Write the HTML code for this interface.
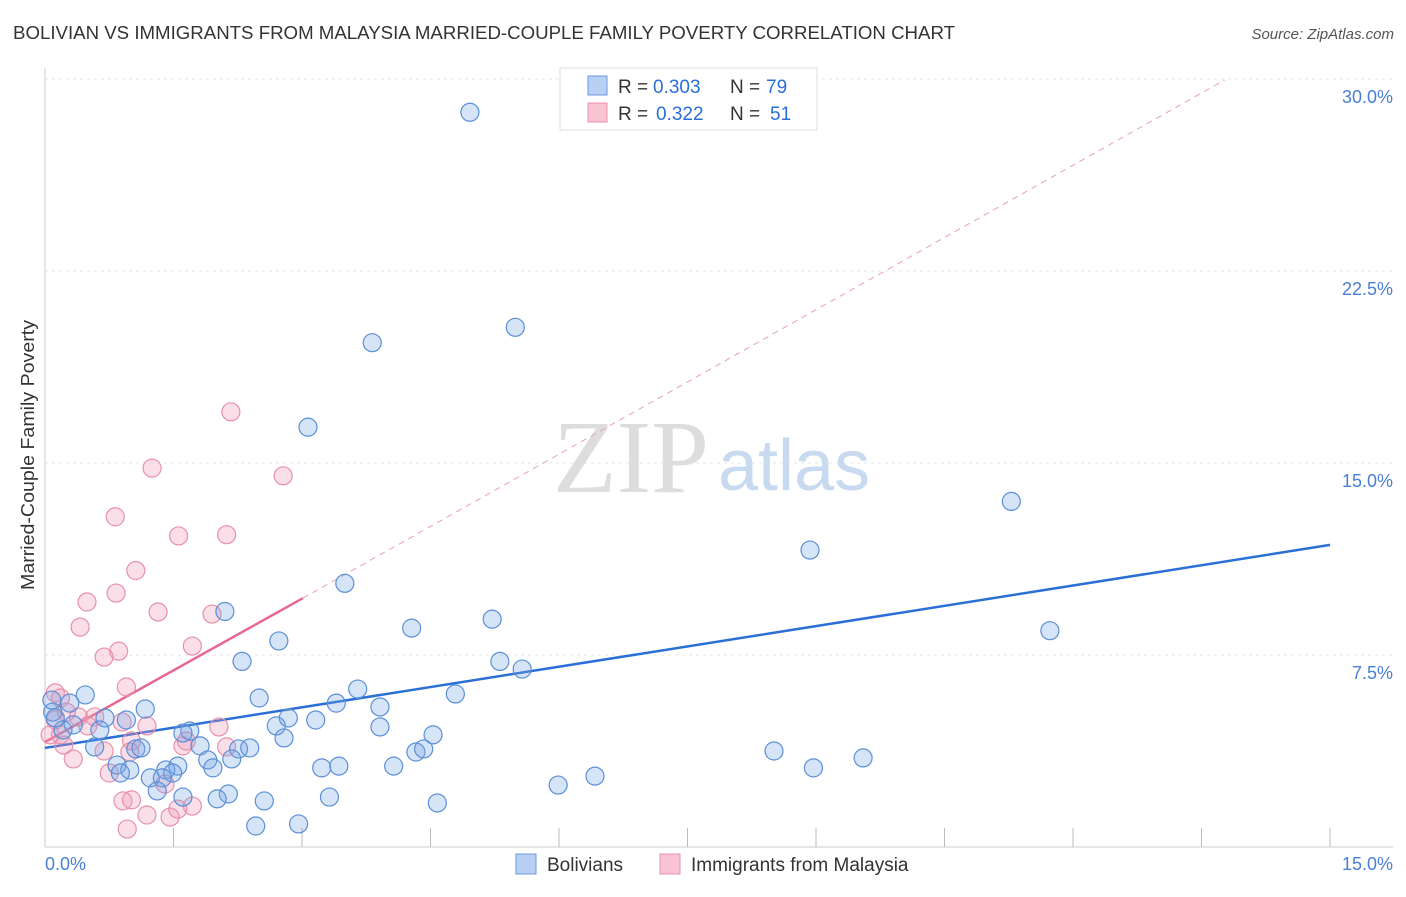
<!DOCTYPE html>
<html><head><meta charset="utf-8"><style>
body{margin:0;background:#fff;font-family:"Liberation Sans",sans-serif}
</style></head><body>
<svg width="1406" height="892" xmlns="http://www.w3.org/2000/svg" font-family="Liberation Sans, sans-serif">
<text x="13" y="39" font-size="18" fill="#333" textLength="942" lengthAdjust="spacingAndGlyphs">BOLIVIAN VS IMMIGRANTS FROM MALAYSIA MARRIED-COUPLE FAMILY POVERTY CORRELATION CHART</text>
<text x="1394" y="39" font-size="15" fill="#555" text-anchor="end" font-style="italic">Source: ZipAtlas.com</text>
<g id="grid"></g>
<text x="553" y="492" font-size="104" fill="#ddd" font-family="Liberation Serif, serif">ZIP</text>
<text x="718" y="490" font-size="72" fill="#c8daf0">atlas</text>
<g id="lines"></g>
<g id="pts"></g>
<text transform="translate(34,455) rotate(-90)" font-size="18" fill="#333" text-anchor="middle" textLength="270" lengthAdjust="spacingAndGlyphs">Married-Couple Family Poverty</text>
<text x="45" y="870" font-size="18" fill="#4a7fd4">0.0%</text>
<text x="1393" y="870" font-size="18" fill="#4a7fd4" text-anchor="end">15.0%</text>
<g>
<rect x="560" y="68" width="257" height="62" fill="#fff" stroke="#ddd"/>
<rect x="588" y="76" width="19" height="19" fill="#b8d0f4" stroke="#6a9ae0"/>
<rect x="588" y="103" width="19" height="19" fill="#f8c4d4" stroke="#e890aa"/>
<text x="618" y="93" font-size="19" fill="#333">R =</text>
<text x="653" y="93" font-size="19" fill="#2a6fd8">0.303</text>
<text x="730" y="93" font-size="19" fill="#333">N =</text>
<text x="766" y="93" font-size="19" fill="#2a6fd8">79</text>
<text x="618" y="120" font-size="19" fill="#333">R =</text>
<text x="656" y="120" font-size="19" fill="#2a6fd8">0.322</text>
<text x="730" y="120" font-size="19" fill="#333">N =</text>
<text x="770" y="120" font-size="19" fill="#2a6fd8">51</text>
</g>
<g>
<rect x="516" y="854" width="20" height="20" fill="#b8d0f4" stroke="#6a9ae0"/>
<text x="547" y="871" font-size="19" fill="#333">Bolivians</text>
<rect x="660" y="854" width="20" height="20" fill="#f8c4d4" stroke="#e890aa"/>
<text x="691" y="871" font-size="19" fill="#333">Immigrants from Malaysia</text>
</g>
</svg>
<script>
const blueX=[4.96,5.49,3.82,3.07,11.28,8.93,3.50,2.10,5.22,4.28,11.73,2.73,2.30,5.31,5.57,3.65,0.47,2.50,4.79,3.40,3.91,1.17,0.09,0.29,0.70,0.95,2.84,3.16,3.91,2.70,1.69,1.61,0.33,0.64,4.53,2.79,0.21,0.58,1.06,1.12,1.81,2.26,2.39,4.33,4.42,8.51,2.18,1.90,9.55,0.84,1.55,1.96,3.23,3.43,4.07,8.97,0.99,1.41,1.49,0.88,1.23,1.37,6.42,5.99,1.31,2.14,1.61,2.01,3.32,2.56,4.58,2.46,2.96,0.08,0.12];
const blueY=[28.7,20.3,19.7,16.4,13.5,11.6,10.3,9.2,8.9,8.55,8.45,8.05,7.25,7.25,6.95,6.17,5.94,5.82,5.98,5.62,5.47,5.39,5.27,5.62,5.04,4.96,5.04,4.96,4.69,4.73,4.53,4.45,4.77,4.57,4.38,4.26,4.57,3.91,3.83,3.87,3.95,3.83,3.87,3.71,3.83,3.75,3.44,3.40,3.48,3.20,3.16,3.09,3.09,3.16,3.16,3.09,3.01,3.01,2.89,2.89,2.70,2.70,2.77,2.42,2.19,2.07,1.95,1.88,1.95,1.80,1.72,0.82,0.90,5.74,5.04];
const pinkX=[2.17,1.25,2.78,0.82,1.56,2.12,1.06,0.49,0.83,1.32,1.95,0.41,1.72,0.86,0.69,0.95,0.12,0.18,0.58,0.39,1.19,2.03,0.90,0.50,0.18,1.01,1.65,0.22,1.61,2.12,0.69,0.33,0.99,0.75,1.40,0.91,1.01,1.55,1.72,1.19,1.46,0.96,0.12,0.06,0.25];
const pinkY=[17.0,14.8,14.5,12.9,12.15,12.2,10.8,9.57,9.92,9.18,9.1,8.59,7.85,7.65,7.42,6.25,6.02,5.82,5.08,5.08,4.73,4.69,4.88,4.73,4.38,4.14,4.14,3.98,3.95,3.91,3.75,3.44,3.71,2.89,2.46,1.80,1.84,1.48,1.60,1.25,1.17,0.70,4.96,4.38,5.27];
const yTicks=[7.5,15,22.5,30];
const blueTrend=[[0,3.87],[15,11.8]];
const pinkTrend=[[0,4.1],[3.01,9.72]];
const pinkDash=[[3.01,9.72],[13.77,29.96]];
const xTicks=[1,2,3,4,5,6,7,8,9,10];
const NS='http://www.w3.org/2000/svg';
const X=v=>45+v/15*1285, Y=v=>847-v/30*768;
function mk(t,a,p){const e=document.createElementNS(NS,t);for(const k in a)e.setAttribute(k,a[k]);document.getElementById(p).appendChild(e);return e;}
let g=mk('line',{x1:45,y1:68,x2:45,y2:847,stroke:'#ccc'},'grid');

g=mk('line',{x1:45,y1:847,x2:1393,y2:847,stroke:'#ccc'},'grid');

yTicks.forEach(t=>{const l=mk('line',{x1:45,y1:Y(t),x2:1393,y2:Y(t),stroke:'#e4e4e4','stroke-dasharray':'3,4'},'grid');

const tx=mk('text',{x:1393,y:Y(t)+24,'font-size':18,fill:'#4a7fd4','text-anchor':'end'},'grid');tx.textContent=t.toFixed(1)+'%';
});
xTicks.forEach(t=>{const l=mk('line',{x1:X(t*1.5),y1:828,x2:X(t*1.5),y2:847,stroke:'#bbb'},'grid');
});
function ln(p,c,dash,name,w){const l=mk('line',{x1:X(p[0][0]),y1:Y(p[0][1]),x2:X(p[1][0]),y2:Y(p[1][1]),stroke:c,'stroke-width':w},'lines');if(dash)l.setAttribute('stroke-dasharray',dash);
}
ln(pinkDash,'#e8a0b8','6,5','pink-trend-extension',1);
ln(blueTrend,'#2a6fd8',null,'blue-trend-line',2.5);
ln(pinkTrend,'#e86890',null,'pink-trend-line',2.5);
pinkX.forEach((v,i)=>{const c=mk('circle',{cx:X(v),cy:Y(pinkY[i]),r:9,fill:'rgba(240,150,180,0.3)',stroke:'#e890aa','stroke-width':1.2},'pts');
});
blueX.forEach((v,i)=>{const c=mk('circle',{cx:X(v),cy:Y(blueY[i]),r:9,fill:'rgba(120,165,230,0.3)',stroke:'#5b8fd8','stroke-width':1.2},'pts');
});
</script>
</body></html>
